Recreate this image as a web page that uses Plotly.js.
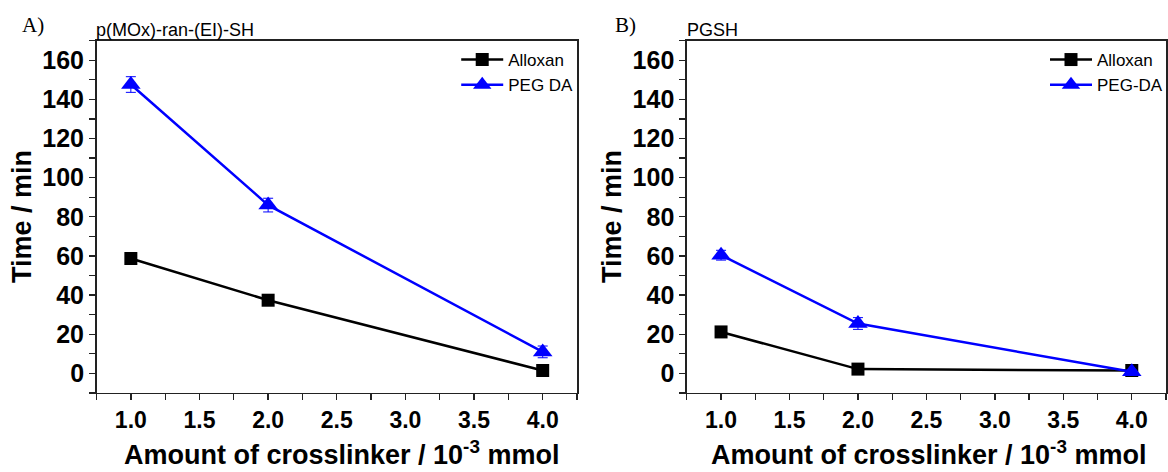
<!DOCTYPE html>
<html>
<head>
<meta charset="utf-8">
<script src="https://cdn.plot.ly/plotly-3.0.1.min.js"></script>
<style>html,body{margin:0;padding:0;background:#fff;}#chart{width:1168px;height:472px;}</style>
</head>
<body>
<div id="chart"></div>
<script>
// ---- data ----
const crosslinkerAmount = [1.0, 2.0, 4.0];
const alloxanA = [58.7, 37.4, 1.5];
const pegdaA = [147.6, 86.0, 11.0];
const pegdaAErr = [4, 3.5, 3];
const alloxanB = [21.2, 2.2, 1.5];
const pegdaB = [60.4, 25.5, 0.8];
const pegdaBErr = [2.5, 3, 1];
const xTickVals = [1.0, 1.5, 2.0, 2.5, 3.0, 3.5, 4.0];
const xTickText = ["1.0", "1.5", "2.0", "2.5", "3.0", "3.5", "4.0"];
const yTickVals = [0, 20, 40, 60, 80, 100, 120, 140, 160];
const seriesNamesA = ["Alloxan", "PEG DA"];
const seriesNamesB = ["Alloxan", "PEG-DA"];
const panelTitles = ["p(MOx)-ran-(EI)-SH", "PGSH"];
const panelLabels = ["A)", "B)"];

const BLUE = "#0000ff";
const BLACK = "#000000";
const sans = "Liberation Sans, Arial, sans-serif";

function lineTrace(y, name, xa, ya, color, symbol, size, legend, err) {
  const t = {
    x: crosslinkerAmount, y: y, name: name, xaxis: xa, yaxis: ya, legend: legend,
    type: "scatter", mode: "lines+markers",
    line: {color: color, width: 2.5},
    marker: {color: color, symbol: symbol, size: size},
    cliponaxis: false
  };
  if (err) t.error_y = {type: "data", array: err, visible: true, color: color, thickness: 1, width: 5};
  return t;
}

const data = [
  lineTrace(alloxanA, seriesNamesA[0], "x", "y", BLACK, "square", 13, "legend"),
  lineTrace(pegdaA, seriesNamesA[1], "x", "y", BLUE, "triangle-up", 17, "legend", pegdaAErr),
  lineTrace(alloxanB, seriesNamesB[0], "x2", "y2", BLACK, "square", 13, "legend2"),
  lineTrace(pegdaB, seriesNamesB[1], "x2", "y2", BLUE, "triangle-up", 17, "legend2", pegdaBErr)
];

function xAxis(domain, anchor) {
  return {
    domain: domain, anchor: anchor, range: [0.75, 4.25],
    tickmode: "array", tickvals: xTickVals, ticktext: xTickText,
    ticks: "outside", ticklen: 6, tickwidth: 1.3, tickcolor: "#222",
    minor: {dtick: 0.25, tick0: 0.75, ticks: "outside", ticklen: 6, tickwidth: 1.3, tickcolor: "#222", showgrid: false},
    showline: true, linecolor: "#222", linewidth: 1.5, mirror: true,
    showgrid: false, zeroline: false,
    tickfont: {family: sans, size: 23, color: "#000", weight: "bold"}
  };
}
function yAxis(domain, anchor) {
  return {
    domain: domain, anchor: anchor, range: [-10, 170],
    tickmode: "array", tickvals: yTickVals,
    ticks: "outside", ticklen: 6, tickwidth: 1.3, tickcolor: "#222",
    minor: {dtick: 10, tick0: 0, ticks: "outside", ticklen: 6, tickwidth: 1.3, tickcolor: "#222", showgrid: false},
    showline: true, linecolor: "#222", linewidth: 1.5, mirror: true,
    showgrid: false, zeroline: false,
    tickfont: {family: sans, size: 25, color: "#000", weight: "bold"}
  };
}

const yDom = [0.1674, 0.9138];
const xDomA = [96.7/1168, 578/1168];
const xDomB = [688/1168, 1.0];

const ann = [];
function panelText(xc, dx) {
  ann.push({text: "Time / min", xref: "paper", yref: "paper", x: (xc - 75)/1168, y: 1 - 216/472, textangle: -90,
    showarrow: false, font: {family: sans, size: 27, color: "#000", weight: "bold"}, xanchor: "center", yanchor: "middle"});
  ann.push({text: "Amount of crosslinker / 10<sup>-3</sup> mmol", xref: "paper", yref: "paper", x: (xc + dx)/1168, y: 1 - 453/472,
    showarrow: false, font: {family: sans, size: 27, color: "#000", weight: "bold"}, xanchor: "center", yanchor: "middle"});
}
panelText(97, 245);
panelText(688, 242);
ann.push({text: panelLabels[0], xref: "paper", yref: "paper", x: 20/1168, y: 1 - 25/472, xanchor: "left", yanchor: "middle",
  showarrow: false, font: {family: "Liberation Serif, Times New Roman, serif", size: 21, color: "#000"}});
ann.push({text: panelLabels[1], xref: "paper", yref: "paper", x: 614/1168, y: 1 - 25/472, xanchor: "left", yanchor: "middle",
  showarrow: false, font: {family: "Liberation Serif, Times New Roman, serif", size: 21, color: "#000"}});
ann.push({text: panelTitles[0], xref: "paper", yref: "paper", x: 94/1168, y: 1 - 30/472, xanchor: "left", yanchor: "middle",
  showarrow: false, font: {family: sans, size: 18, color: "#000"}});
ann.push({text: panelTitles[1], xref: "paper", yref: "paper", x: 686/1168, y: 1 - 30/472, xanchor: "left", yanchor: "middle",
  showarrow: false, font: {family: sans, size: 18, color: "#000"}});

const legendStyle = (x) => ({
  x: x, y: 1 - 42/472, xref: "paper", yref: "paper", xanchor: "left", yanchor: "top",
  bgcolor: "rgba(0,0,0,0)", borderwidth: 0, tracegroupgap: 0,
  font: {family: sans, size: 17, color: "#000"}, itemwidth: 42
});

const layout = {
  width: 1168, height: 472,
  margin: {l: 0, r: 0, t: 0, b: 0},
  paper_bgcolor: "#fff", plot_bgcolor: "#fff",
  showlegend: true,
  xaxis: xAxis(xDomA, "y"), yaxis: yAxis(yDom, "x"),
  xaxis2: xAxis(xDomB, "y2"), yaxis2: yAxis(yDom, "x2"),
  legend: legendStyle(457/1168),
  legend2: legendStyle(1047/1168),
  annotations: ann
};

Plotly.newPlot("chart", data, layout, {staticPlot: true, displayModeBar: false});
</script>
</body>
</html>
